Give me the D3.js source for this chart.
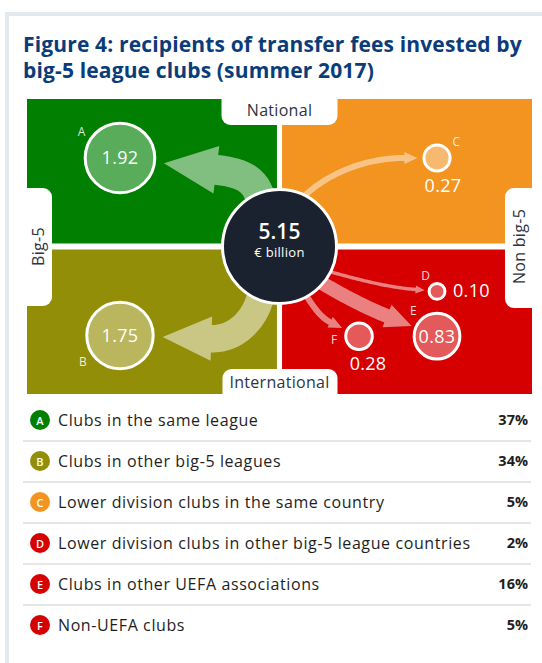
<!DOCTYPE html>
<html>
<head>
<meta charset="utf-8">
<script src="https://cdn.jsdelivr.net/npm/d3@7"></script>
<style>
  html, body { margin: 0; padding: 0; background: #fff; }
  svg { display: block; font-family: "Open Sans", sans-serif; }
</style>
</head>
<body>
<svg id="chart" width="542" height="663"></svg>
<script>
// ---------------- DATA ----------------
const titleLines = ["Figure 4: recipients of transfer fees invested by", "big-5 league clubs (summer 2017)"];
const columns = ["Big-5", "Non big-5"];
const rows = ["National", "International"];
const letters = ["A", "B", "C", "D", "E", "F"];
const descriptions = [
  "Clubs in the same league",
  "Clubs in other big-5 leagues",
  "Lower division clubs in the same country",
  "Lower division clubs in other big-5 league countries",
  "Clubs in other UEFA associations",
  "Non-UEFA clubs"
];
const values = [1.92, 1.75, 0.27, 0.10, 0.83, 0.28];   // € billion
const shares = [37, 34, 5, 2, 16, 5];                   // %
const nodeColumn = ["Big-5", "Big-5", "Non big-5", "Non big-5", "Non big-5", "Non big-5"];
const nodeRow = ["National", "International", "National", "International", "International", "International"];
const total = 5.15;
const totalUnit = "€ billion";

// ---------------- STYLE / LAYOUT ----------------
const quadColor = {
  "Big-5|National": "#007f00",
  "Non big-5|National": "#f39421",
  "Big-5|International": "#938e07",
  "Non big-5|International": "#d60000"
};
const hubFill = "#19222e";
const ink = "#1e1e1e";
const titleColor = "#0b3c7a";

// node placement inside its quadrant (fractions of the band)
const nodePos = {
  A: {fx: 0.372, fy: 0.408, letterAng: -145, valuePos: "in"},
  B: {fx: 0.372, fy: 0.595, letterAng: 145, valuePos: "in"},
  C: {fx: 0.62, fy: 0.408, letterAng: -40, valuePos: "below", vdx: 6, vdy: 34},
  D: {fx: 0.62, fy: 0.29, letterAng: -125, valuePos: "right", vdx: 16, vdy: 6},
  E: {fx: 0.62, fy: 0.60, letterAng: -133, valuePos: "in"},
  F: {fx: 0.308, fy: 0.60, letterAng: 172, valuePos: "below", vdx: 9, vdy: 34}
};
// arrow geometry: start angle/dist inside hub, start dir, end dir, handles, gap
const flowShape = {
  A: {a0: -119, d0f: 0.63, dir0: -90, dir1: 187, k1: 35, k2: 28, gap: 8, op: 0.5},
  B: {a0: 117, d0f: 0.65, dir0: 90, dir1: 182, k1: 33, k2: 28, gap: 8, op: 0.5},
  C: {a0: -69, d0f: 0.77, dir0: -50, dir1: 0, k1: 40, k2: 40, gap: 5, op: 0.45},
  D: {a0: 31, d0f: 0.72, dir0: 15, dir1: 5, k1: 35, k2: 35, gap: 3, op: 0.5},
  E: {a0: 45, d0f: 0.63, dir0: 35, dir1: 22, k1: 30, k2: 25, gap: 3, op: 0.5},
  F: {a0: 62, d0f: 0.70, dir0: 60, dir1: 26, k1: 18, k2: 14, gap: 4, op: 0.5}
};

const svg = d3.select("#chart");

// card frame
svg.append("rect").attr("x", 5).attr("y", 12).attr("width", 537).attr("height", 4).attr("fill", "#e4e9f0");
svg.append("rect").attr("x", 5).attr("y", 12).attr("width", 4).attr("height", 651).attr("fill", "#e4e9f0");

// title (one text block, two lines)
svg.append("text")
  .attr("fill", titleColor).attr("font-size", 21).attr("font-weight", 700)
  .attr("letter-spacing", 0.15)
  .selectAll("tspan").data(titleLines).join("tspan")
  .attr("x", 23).attr("y", (d, i) => 52 + i * 26)
  .text(d => d);

// scales
const x = d3.scaleBand().domain(columns).range([27, 532]).paddingInner(0.02);
const y = d3.scaleBand().domain(rows).range([99, 394]).paddingInner(0.04);
const r = d3.scaleSqrt().domain([0, total]).range([0, 57]);
const w = d3.scaleLinear().domain([0, d3.max(values)]).range([2, 30]);

const hub = {x: (x.range()[0] + x.range()[1]) / 2, y: (y.range()[0] + y.range()[1]) / 2};

// quadrants
const quads = [];
columns.forEach(c => rows.forEach(rw => quads.push({c, rw})));
svg.append("g").selectAll("rect").data(quads).join("rect")
  .attr("x", d => x(d.c)).attr("y", d => y(d.rw))
  .attr("width", x.bandwidth()).attr("height", y.bandwidth())
  .attr("fill", d => quadColor[d.c + "|" + d.rw]);

// tabs (white cut-outs)
const tabs = [
  {label: rows[0], x: hub.x - 58, y: y.range()[0] - 10, w: 116, h: 36, rot: 0, tx: hub.x, ty: 116},
  {label: rows[1], x: hub.x - 57, y: 369, w: 115, h: 40, rot: 0, tx: hub.x, ty: 388},
  {label: columns[0], x: x.range()[0] - 10, y: 188, w: 35, h: 118, rot: -90, tx: 44, ty: hub.y},
  {label: columns[1], x: 505, y: 188, w: 40, h: 120, rot: -90, tx: 525, ty: hub.y}
];
const tabG = svg.append("g");
tabG.selectAll("rect").data(tabs).join("rect")
  .attr("x", d => d.x).attr("y", d => d.y).attr("width", d => d.w).attr("height", d => d.h)
  .attr("rx", 9).attr("fill", "#fff");
tabG.selectAll("text").data(tabs).join("text")
  .attr("transform", d => `translate(${d.tx},${d.ty}) rotate(${d.rot})`)
  .attr("text-anchor", "middle").attr("font-size", 16).attr("letter-spacing", 0.3).attr("fill", "#2e3540")
  .text(d => d.label);

// node data
const nodes = letters.map((L, i) => {
  const p = nodePos[L];
  return {
    L, i, v: values[i],
    x: x(nodeColumn[i]) + p.fx * x.bandwidth(),
    y: y(nodeRow[i]) + p.fy * y.bandwidth(),
    r: r(values[i]),
    col: quadColor[nodeColumn[i] + "|" + nodeRow[i]], p
  };
});

// arrows
const rad = a => a * Math.PI / 180;
function arrowPath(n) {
  const s = flowShape[n.L];
  const sw = w(n.v);
  const hw = 1.5 * sw + 3, hl = 1.1 * hw;
  const R = r(total);
  const P0 = [hub.x + s.d0f * R * Math.cos(rad(s.a0)), hub.y + s.d0f * R * Math.sin(rad(s.a0))];
  const u0 = [Math.cos(rad(s.dir0)), Math.sin(rad(s.dir0))];
  const u1 = [Math.cos(rad(s.dir1)), Math.sin(rad(s.dir1))];
  const tip = [n.x - u1[0] * (n.r + 1.5 + s.gap), n.y - u1[1] * (n.r + 1.5 + s.gap)];
  const P3 = [tip[0] - u1[0] * hl, tip[1] - u1[1] * hl];
  const P1 = [P0[0] + u0[0] * s.k1, P0[1] + u0[1] * s.k1];
  const P2 = [P3[0] - u1[0] * s.k2, P3[1] - u1[1] * s.k2];
  const N = 40, left = [], right = [];
  for (let k = 0; k <= N; k++) {
    const t = k / N, mt = 1 - t;
    const px = mt*mt*mt*P0[0] + 3*mt*mt*t*P1[0] + 3*mt*t*t*P2[0] + t*t*t*P3[0];
    const py = mt*mt*mt*P0[1] + 3*mt*mt*t*P1[1] + 3*mt*t*t*P2[1] + t*t*t*P3[1];
    let dx = 3*mt*mt*(P1[0]-P0[0]) + 6*mt*t*(P2[0]-P1[0]) + 3*t*t*(P3[0]-P2[0]);
    let dy = 3*mt*mt*(P1[1]-P0[1]) + 6*mt*t*(P2[1]-P1[1]) + 3*t*t*(P3[1]-P2[1]);
    const len = Math.hypot(dx, dy) || 1; dx /= len; dy /= len;
    left.push([px - dy * sw / 2, py + dx * sw / 2]);
    right.push([px + dy * sw / 2, py - dx * sw / 2]);
  }
  const nrm = [-u1[1], u1[0]];
  const pts = [
    ...left,
    [P3[0] + nrm[0] * hw / 2, P3[1] + nrm[1] * hw / 2],
    tip,
    [P3[0] - nrm[0] * hw / 2, P3[1] - nrm[1] * hw / 2],
    ...right.reverse()
  ];
  return d3.line()(pts) + "Z";
}
svg.append("g").selectAll("path").data(nodes).join("path")
  .attr("d", arrowPath)
  .attr("fill", "#fff").attr("fill-opacity", d => flowShape[d.L].op);

// hub
svg.append("circle").attr("cx", hub.x).attr("cy", hub.y).attr("r", r(total))
  .attr("fill", hubFill).attr("stroke", "#fff").attr("stroke-width", 3);
svg.append("text").attr("x", hub.x).attr("y", hub.y - 8).attr("text-anchor", "middle")
  .attr("fill", "#fff").attr("font-size", 21).attr("font-weight", 600).text(total.toFixed(2));
svg.append("text").attr("x", hub.x).attr("y", hub.y + 10).attr("text-anchor", "middle")
  .attr("fill", "#fff").attr("font-size", 13).attr("letter-spacing", 0.3).text(totalUnit);

// nodes
const ng = svg.append("g").selectAll("g").data(nodes).join("g");
ng.append("circle").attr("cx", d => d.x).attr("cy", d => d.y).attr("r", d => d.r)
  .attr("fill", d => d3.interpolateRgb(d.col, "#fff")(0.35))
  .attr("stroke", "#fff").attr("stroke-width", 3);
ng.append("text")
  .attr("x", d => d.x + (d.r + 12) * Math.cos(rad(d.p.letterAng)))
  .attr("y", d => d.y + (d.r + 12) * Math.sin(rad(d.p.letterAng)))
  .attr("text-anchor", "middle").attr("dominant-baseline", "central")
  .attr("fill", "#fff").attr("fill-opacity", 0.85).attr("font-size", 12)
  .text(d => d.L);
ng.append("text")
  .attr("x", d => d.p.valuePos === "in" ? d.x : d.x + d.p.vdx)
  .attr("y", d => d.p.valuePos === "in" ? d.y + 6.5 : d.y + d.p.vdy)
  .attr("text-anchor", d => d.p.valuePos === "right" ? "start" : "middle")
  .attr("fill", "#fff").attr("font-size", 18).attr("letter-spacing", 0.3)
  .text(d => d.v.toFixed(2));

// legend
const rowY = d3.scalePoint().domain(letters).range([420, 625]);
const lg = svg.append("g").selectAll("g").data(nodes).join("g")
  .attr("transform", d => `translate(0,${rowY(d.L)})`);
lg.append("circle").attr("cx", 40).attr("cy", 0).attr("r", 10).attr("fill", d => d.col);
lg.append("text").attr("x", 40).attr("y", 0).attr("text-anchor", "middle").attr("dominant-baseline", "central")
  .attr("fill", "#fff").attr("font-size", 11).attr("font-weight", 600).text(d => d.L);
lg.append("text").attr("x", 58).attr("y", 5.5).attr("fill", ink).attr("font-size", 16)
  .attr("letter-spacing", 0.6)
  .text(d => descriptions[d.i]);
lg.append("text").attr("x", 528).attr("y", 4.5).attr("text-anchor", "end").attr("fill", ink)
  .attr("font-size", 14.5).attr("font-weight", 700).text(d => shares[d.i] + "%");
lg.filter(d => d.i < letters.length - 1).append("line")
  .attr("x1", 23).attr("x2", 531).attr("y1", rowY.step() / 2 + 0.5).attr("y2", rowY.step() / 2 + 0.5)
  .attr("stroke", "#dcdcdc").attr("stroke-width", 1.5);
</script>
</body>
</html>
